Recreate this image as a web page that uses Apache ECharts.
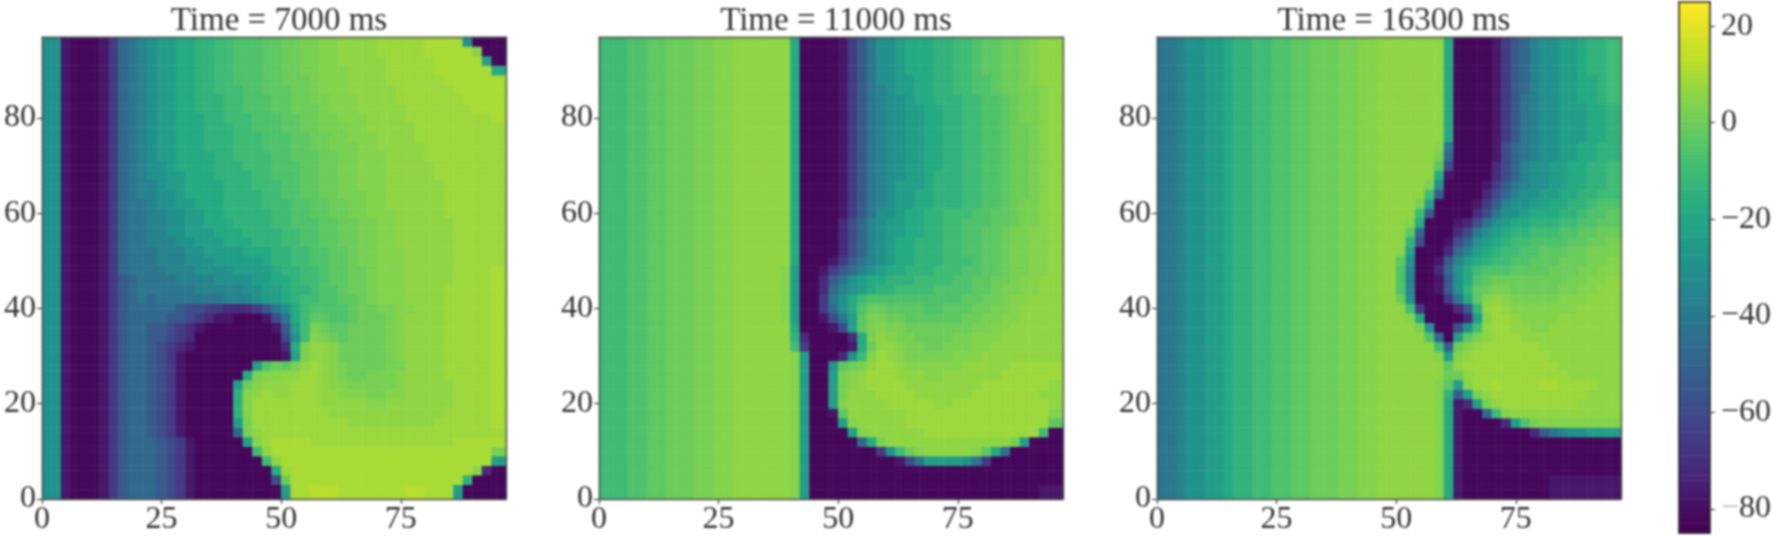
<!DOCTYPE html>
<html>
<head>
<meta charset="utf-8">
<style>html,body{margin:0;padding:0;background:#fff}#c{width:1774px;height:536px;filter:blur(1.1px)}</style>
<script src="https://cdn.jsdelivr.net/npm/echarts@6/dist/echarts.min.js"></script>
</head>
<body>
<div id="c"></div>
<script>
const panelTitles = ['Time = 7000 ms', 'Time = 11000 ms', 'Time = 16300 ms'];
const xTickValues = [0, 25, 50, 75];
const yTickValues = [0, 20, 40, 60, 80];
const colorbarTicks = [-80, -60, -40, -20, 0, 20];
const levelChars = 'ABCDEFGHIJKLMNOPQRSTUVW';
const levelValues = [-83, -78, -72, -66, -60, -54, -48, -42, -36, -30, -24, -18, -14, -10, -6, -3, 0, 2.5, 4.5, 6.5, 8.5, 10.5, 12.5];
const viridis = ['#440154', '#482475', '#414487', '#355f8d', '#2a788e', '#21918c', '#22a884', '#44bf70', '#7ad151', '#bddf26', '#fde725'];

// Rows, top row first (y = 96, 94, ... 2); 48 columns of 2 units each.
const panel7000Rows = [
'JJBAAABD GHIJKKLL MMNNOOOP PQQRRSST TTTUUUUU VVVVJAAA',
'JJBAAABD GHIJKKLL MMNNOOOP PQQRRSST TTTUUUUU VVVVVSAA',
'JJBAAABD GHIJKKLL MMNNOOOP PQQRRSST TTTTUUUU UVVVVVKA',
'JJBAAABD GHIJKKLL MMNNOOOP PQQRRSSS TTTTUUUU UVVVVVVL',
'JJBAAABD GHIJKKLL MMNNOOOP PQQQRSSS TTTTUUUU UUVVVVVV',
'JJBAAABD GHIJKKLL MMNNNOOP PPQQRSSS TTTTTUUU UUUVVVVV',
'JJBAAABD GHIJKKLL MMMNNOOO PPQQRRSS STTTTUUU UUUUVVVV',
'JJBAAABD GHIJKKLL MMMNNOOO PPQQQRSS STTTTTUU UUUUUVVV',
'JJBAAABD GHIJKKLL LMMNNNOO OPPQQRRS SSTTTTUU UUUUUUUV',
'JJBAAABD GHIJKKLL LMMMNNOO OPPQQRRR SSTTTTTU UUUUUUUU',
'JJBAAABD GHIJKKLL LMMMNNNO OOPPQQRR SSSTTTTU UUUUUUUU',
'JJBAAABD GHIJKKLL LMMMNNNO OOPPQQRR RSSTTTTT UUUUUUUU',
'JJBAAABD GHIJKKLL LLMMNNNN OOPPPQQR RSSSTTTT UUUUUUUU',
'JJBAAABD GHIJJKLL LLMMMNNN OOOPPQQR RSSSTTTT TUUUUUUU',
'JJBAAABD GHIJJKKL LLMMMMNN OOOPPQQR RSSSTTTT TUUUUUUU',
'JJBAAABD GHIIJKKL LLLMMMNN NOOPPQQR RSSSTTTT TTUUUUUU',
'JJBAAABD GHIIJJKL LLLMMMMN NOOPPQQR RRSSTTTT TTUUUUUU',
'JJBAAABD GHHIJJKK LLLMMMMN NNOOPPQQ RRSSTTTT TTUUUUUU',
'JJBAAABD GHHIIJJK KLLMMMMM NNOOPPQQ RRSSSTTT TTUUUUUU',
'JJBAAABD GHHIIJJK KLLLMMMM NNOOOPPQ QRRSSTTT TTTUUUUU',
'JJBAAABD GHHIIJJK KKLLLMMM MNNOOPPQ QRRSSTTT TTTUUUUU',
'JJBAAABD GHHIIIJJ KKKLLLMM MNNOOPPQ QRRSSTTT TTTUUUUU',
'JJBAAABD GHHHIIIJ JKKKKLLL MMNNOOPP QRRSSSTT TTTUUUUU',
'JJBAAABD GHHHIIIJ JJKKKKKL MMNNOOPP QRRSSSTT TTTUUUUU',
'JJBAAABD GHHHHIII JJJJKKKK LMMNNOPP QQRSSSTT TTTUUUUV',
'JJBAAABD FGHHHHII IIJJJJKK LLMNNOPP QQRSSSTT TTTUUUUV',
'JJBAAABD FGHHHHHH IIIIIJJK KLMMNOOP QQRSSSTT TTUUUUUV',
'JJBAAABD FGHGHHHH HHHIIIJK KLMNNOOP PQRSSSTT TTUUUUUV',
'JJBAAABD FGGGGGFE EDDCCCDF HJLNOOOO PQQRRSST TTUUUUUV',
'JJBAAABD FGGGGFFE DCBBAAAB EHLNPPOO PQQQRSTT TTUUUUUV',
'JJBAAABD FGGFFEDC BAAAAAAA BFKNRQPP QQQQRSTT TTUUUUUV',
'JJBAAABD FGGFFEDC AAAAAAAA AEJNSRQP QQQQRSTT TTUUUUUV',
'JJBAAABD FGGFEDCB AAAAAAAA ACLRTTSQ QQQQRSTT TTUUUUUV',
'JJBAAABD FGGFEDBA AAAAAAAA ABKRTTSQ QQQQRSTT TTUUUUUV',
'JJBAAABD FGGFEDBA AAAAAAKO QPRTUTSR QQQQRRTT TTUUUUUV',
'JJBAAABD FGGFEDBA AAAAALRS STTUUTSR QQRRRSTT TTUUUUUV',
'JJBAAABD FGGFEDBA AAAAKQST TTUUUTSS RRRRRSTT TTTUUUUV',
'JJBAAABD FGGFEDBA AAAAMSTU TTUUUTTS SSRRSSTT TTTUUUUV',
'JJBAAABD FGGFEDBA AAAAMSUU UUUUUTTT TTSSTTTT TTTUUUUV',
'JJBAAABD FGGFEDBA AAAAMSUU UUUUUUTT TTTTTTTT TTUUUUUV',
'JJBAAABD FGGFEDBA AAAAKRUU UUUUUUUU TTTTTTTT TUUUUUUV',
'JJBAAABD FGGFEDBA AAAAGRTU UUUUUUUU UUUUUUUU UUUUUUUU',
'JJBAAABD FGGGFEDB AAAAAKSU VVVVUUUU UUUUUUUU UUUVVVVV',
'JJBAAABD FGGGFEDB AAAAAANT VVVVVVVV VVVVVVVV VVVVVVVR',
'JJBAAABD FGGGFEDB AAAAAAAN TVVVVVVV VVVVVVVV VVVVVVVK',
'JJBAAABD FGGGFEDB AAAAAAAA LUVVVVVV VVVVVVVV VVVVVSCA',
'JJBAAABD FGGGFEDB AAAAAAAA EQVVVVVV VVVVVVVV VVVVMAAA',
'JJBAAABD FGGGFEDB AAAAAAAA AKVVWWWV VVVVVVWW VVVKAAAA'
];

const panel11000Rows = [
'NNNOOPPQ QQRRSSTT TTTTLAAA ABDFHJJK LLLMMNNO PPQQRSTT',
'NNNOOPPQ QQRRSSTT TTTTLAAA ABDFHJJK LLLMMNNO PPQQRSTT',
'NNNOOPPQ QQRRSSTT TTTTLAAA ABDFHJJK LLLMMNNO PPQQRSTT',
'NNNOOPPQ QQRRSSTT TTTTLAAA ABDFHJJK LLLMMNNO PPQQRSTT',
'NNNOOPPQ QQRRSSTT TTTTLAAA ABDFHJJK KLLMMNNO OPQQRSTT',
'NNNOOPPQ QQRRSSTT TTTTLAAA ABDFHIJK KLLMMNNO OPQQRRST',
'NNNOOPPQ QQRRSSTT TTTTLAAA ABDFHIJJ KLLMMMNN OOPQRRST',
'NNNOOPPQ QQRRSSTT TTTTLAAA ABDFHIJJ KKLLMMNN OOPQRRST',
'NNNOOPPQ QQRRSSTT TTTTLAAA ABDFHIJJ KKLLMMNN OOPQRRST',
'NNNOOPPQ QQRRSSTT TTTTLAAA ABDFHIJJ KKLLMMNN OOPQQRST',
'NNNOOPPQ QQRRSSTT TTTTLAAA ABDFHIJJ KKLLMMNN OOPQQRST',
'NNNOOPPQ QQRRSSTT TTTTLAAA ABDFHIJJ KKLLMMNN OOPQQRST',
'NNNOOPPQ QQRRSSTT TTTTLAAA ABDFHIJJ KKLLMMNN OOPQQRST',
'NNNOOPPQ QQRRSSTT TTTTLAAA ABDFHIJJ KKLLMMNN OOPQQRST',
'NNNOOPPQ QQRRSSTT TTTTLAAA ABDFHIJJ KKLMMMNN OOPQQRST',
'NNNOOPPQ QQRRSSTT TTTTLAAA ABDFHIJK KKLMMMNN OOPQQRST',
'NNNOOPPQ QQRRSSTT TTTTLAAA ABDFHIJK KLLMMMNN OOPQQRST',
'NNNOOPPQ QQRRSSTT TTTTLAAA ABDFHIJK KLLMMMNN OOPQRRST',
'NNNOOPPQ QQRRSSTT TTTTLAAA ABDFHJJK LLMMNNNO OPPQRRST',
'NNNOOPPQ QQRRSSTT TTTTLAAA ACEGIJKK LLMMNNOO OPPQRRST',
'NNNOOPPQ QQRRSSTT TTTTLAAA ACEGIJKK LLMMNNOO PPQRRSST',
'NNNOOPPQ QQRRSSTT TTTTLAAA ACEGIJKL LMMMNNOO PPQRRSST',
'NNNOOPPQ QQRRSSTT TTTTLAAA ACEGIJKL LMMMNNOO PPQRRSST',
'NNNOOPPQ QQRRSSTT TTTTLAAA BDFHIJKL LMMMNNNO PPQRRSST',
'NNNOOPPQ QQRRSSTT TTTSKAAB DFGIJKLL MMMNNNOO PPQRRSST',
'NNNOOPPQ QQRRSSTT TTTSKAAC FHJKLLMM MNNNNOOP PQQRSSTT',
'NNNOOPPQ QQRRSSTT TTTSKAAC GIJKLMMN NNNOOOOP PQRRSSTT',
'NNNOOPPQ QQRRSSTT TTTSKAAD HJLNOOOO OOOOOOPP QQRSSTTT',
'NNNOOPPQ QQRRSSTT TTTSKAAD GJLOQQPP PPOOPPPQ QRRSTTTT',
'NNNOOPPQ QQRRSSTT TTTSKAAB EHKPRRQQ PPPPPPQQ RRSSTTTT',
'NNNOOPPQ QQRRSSTT TTTTLAAA BEKPRSRR QQQQQQQR RSSTTTTT',
'NNNOOPPQ QQRRSSTT TTTTMCAA AACLRTSR RQQQQRRS SSTTTTTT',
'NNNOOPPQ QQRRSSTT TTTTNDAA AABLQTTS RRQQRRRS STTTTTTT',
'NNNOOPPQ QQRRSSTT TTTTSKAA ACJNSUTS RRRRRSSS TTTTTTTT',
'NNNOOPPQ QQRRSSTT TTTTSKAA JPQRTUUT SSSSSSTT TTTUUUUU',
'NNNOOPPQ QQRRSSTT TTTTSKAA KRSTUUUT TTSSTTTT TTUUUUUU',
'NNNOOPPQ QQRRSSTT TTTTSKAA KRSTUUUU TTTTTTTT UUUUUUUT',
'NNNOOPPQ QQRRSSTT TTTTSKAA KRTTTUUU UTTTTTTU UUUUUUTT',
'NNNOOPPQ QQRRSSTT TTTTSKAA KSTTTTUU UUUTTUUU UUUUUUUT',
'NNNOOPPQ QQRRSSTT TTTTSKAA BPTTTTTT UUUUUUUU UUUUUUUS',
'NNNOOPPQ QQRRSSTT TTTTSKAA AKSTTTTT UUUUUUUU UUUUUUUP',
'NNNOOPPQ QQRRSSTT TTTTSKAA AAKSTTTT TTUUUUUU UUUUUUNA',
'NNNOOPPQ QQRRSSTT TTTTSKAA AAAGLRTT TTTTTTTT TTTRKAAA',
'NNNOOPPQ QQRRSSTT TTTTSKAA AAAAADJN QSTTTTTS PLGAAAAA',
'NNNOOPPQ QQRRSSTT TTTTSKAA AAAAAAAB EHKKKKJH DAAAAAAA',
'NNNOOPPQ QQRRSSTT TTTTSKAA AAAAAAAA AAAAAAAA AAAAAAAA',
'NNNOOPPQ QQRRSSTT TTTTSKAA AAAAAAAA AAAAAAAA AAAAAAAA',
'NNNOOPPQ QQRRSSTT TTTTSKAA AAAAAAAA AAAAAAAA AAAAAABB'
];

const panel16300Rows = [
'HHIJJKKL MMNNOOPP QQQRRSST TTTTTTLA AAABDFGI JJKKLMMN',
'HHIJJKKL MMNNOOPP QQQRRSST TTTTTTLA AAABDFGI JJKKLMMN',
'HHIJJKKL MMNNOOPP QQQRRSST TTTTTTLA AAABDFGI JJKKLMMN',
'HHIJJKKL MMNNOOPP QQQRRSST TTTTTTLA AAABDFGI JJKKLMMN',
'HHIJJKKL MMNNOOPP QQQRRSST TTTTTTLA AAABDFGI JJKKLLMN',
'HHIJJKKL MMNNOOPP QQQRRSST TTTTTTLA AAABDFGI JJKKLLMN',
'HHIJJKKL MMNNOOPP QQQRRSST TTTTTTLA AAABDFHI JJKKLLMN',
'HHIJJKKL MMNNOOPP QQQRRSST TTTTTTLA AAABDFHI JJKKKLLM',
'HHIJJKKL MMNNOOPP QQQRRSST TTTTTTLA AAABDFHI JJKKKLLM',
'HHIJJKKL MMNNOOPP QQQRRSST TTTTTTLA AAABDFHI JJKKKLLM',
'HHIJJKKL MMNNOOPP QQQRRSST TTTTTTLA AAABDFHI JJKKKLLM',
'HHIJJKKL MMNNOOPP QQQRRSST TTTTTSHA AAABEGHI JJKKLLMM',
'HHIJJKKL MMNNOOPP QQQRRSST TTTTTRGA AAABEGHI JJKKLLMM',
'HHIJJKKL MMNNOOPP QQQRRSST TTTTTPEA AAACEGIJ JKKLLMMN',
'HHIJJKKL MMNNOOPP QQQRRSST TTTTTLBA AAACEGIJ JKKLLMMN',
'HHIJJKKL MMNNOOPP QQQRRSST TTTTRJAA AABDFHIJ JKKLLMMN',
'HHIJJKKL MMNNOOPP QQQRRSST TTTTNFAA AACEGIJJ KKLLMMNN',
'HHIJJKKL MMNNOOPP QQQRRSST TTTRKAAA ABDFIJJK KLLMMNOO',
'HHIJJKKL MMNNOOPP QQQRRSST TTTNFAAA ACEHJJKL LLMMNOOP',
'HHIJJKKL MMNNOOPP QQQRRSST TTSLAAAB CEHJKLLM MMNNOOPP',
'HHIJJKKL MMNNOOPP QQQRRSST TTPGAAAC EHJKLMMN NNOOPPQQ',
'HHIJJKKL MMNNOOPP QQQRRSST TTMEAABE GJKLMNNO OOOPPQQR',
'HHIJJKKL MMNNOOPP QQQRRSST TSKAAACG IKLMNNOO PPPQQRRR',
'HHIJJKKL MMNNOOPP QQQRRSST TPJAABFI KLMNNOOP PPQQQRRS',
'HHIJJKKL MMNNOOPP QQQRRSST TOIAACGJ LNOOOPPP PQQQRRSS',
'HHIJJKKL MMNNOOPP QQQRRSST TOIAABFJ LOPQQQQQ QQQRRSST',
'HHIJJKKL MMNNOOPP QQQRRSST TOIAABFJ MPQRRQQQ QQRRSSTT',
'HHIJJKKL MMNNOOPP QQQRRSST TQJAAADH LPSTSRRR RRSSSTTT',
'HHIJJKKL MMNNOOPP QQQRRSST TTNDAAAC FMTUTSSS SSSSTTTT',
'HHIJJKKL MMNNOOPP QQQRRSST TTSLAAAA CKSUUTSS SSTTTTTT',
'HHIJJKKL MMNNOOPP QQQRRSST TTTRJAAE JNTUUTTS STTTTTTT',
'HHIJJKKL MMNNOOPP QQQRRSST TTTTOGAK PRTUUUTT TTTTTTTT',
'HHIJJKKL MMNNOOPP QQQRRSST TTTTTNFQ STUUUUUU TTTTTTTT',
'HHIJJKKL MMNNOOPP QQQRRSST TTTTTSKS TUUUUUUU UTTTTTTT',
'HHIJJKKL MMNNOOPP QQQRRSST TTTTTTPT UUUUUUUU UUTTTTTT',
'HHIJJKKL MMNNOOPP QQQRRSST TTTTTTQQ TUUUUUUU UUUTTTTT',
'HHIJJKKL MMNNOOPP QQQRRSST TTTTTSPK SUUVUUUU VVUUUUTT',
'HHIJJKKL MMNNOOPP QQQRRSST TTTTTSMF KRTUUUUU UUUUUTTT',
'HHIJJKKL MMNNOOPP QQQRRSST TTTTTSLB CKRTUUUU UUUUTTTT',
'HHIJJKKL MMNNOOPP QQQRRSST TTTTTSLB AAGNSTTT TTTTTTTT',
'HHIJJKKL MMNNOOPP QQQRRSST TTTTTSLB AAAACKOR SSSSSSSS',
'HHIJJKKL MMNNOOPP QQQRRSST TTTTTSLB AAAAAAAC FHIJJKKK',
'HHIJJKKL MMNNOOPP QQQRRSST TTTTTSLB AAAAAAAA AAAAAAAA',
'HHIJJKKL MMNNOOPP QQQRRSST TTTTTSLB AAAAAAAA AAAAAAAA',
'HHIJJKKL MMNNOOPP QQQRRSST TTTTTSLB AAAAAAAA AAAAAAAA',
'HHIJJKKL MMNNOOPP QQQRRSST TTTTTSLB AAAAAAAA AAAAAAAA',
'HHIJJKKL MMNNOOPP QQQRRSST TTTTTSLB AAAAAAAA ABBBBBBB',
'HHIJJKKL MMNNOOPP QQQRRSST TTTTTSLB AAAAAAAA ABBBBBBB'
];

const panelRows = [panel7000Rows, panel11000Rows, panel16300Rows];
const unitCount = 97;
const unitLabels = Array.from({length: unitCount}, (_, i) => String(i));

function cellsFrom(rows) {
  const table = rows.map(r => r.replace(/ /g, ''));
  const cells = [];
  for (let yu = 0; yu < unitCount; yu++) {
    const rowIndex = Math.min(47, Math.max(0, (96 - 2 * Math.ceil(Math.max(yu, 1) / 2)) / 2));
    const row = table[rowIndex];
    for (let xu = 0; xu < unitCount; xu++) {
      const ch = row[Math.min(row.length - 1, xu >> 1)];
      cells.push([xu, yu, levelValues[levelChars.indexOf(ch)]]);
    }
  }
  return cells;
}

const panelBoxes = [{left: 42, width: 464}, {left: 599, width: 464}, {left: 1157, width: 464}];
const panelTop = 37, panelHeight = 463;
const frameLine = {show: true, onZero: false, lineStyle: {color: '#4a4a4a', width: 1.4}};
const tickStyle = {lineStyle: {color: '#444', width: 1.2}, length: 5};
const textFont = {fontFamily: 'Liberation Serif', color: '#333'};

const grid = [], xAxis = [], yAxis = [], series = [], title = [];
panelBoxes.forEach((box, i) => {
  grid.push({left: box.left, top: panelTop, width: box.width, height: panelHeight, containLabel: false});
  title.push({text: panelTitles[i], left: box.left + box.width / 2, top: 0, textAlign: 'center',
    textStyle: {...textFont, fontSize: 33, fontWeight: 'normal'}});
  xAxis.push({type: 'value', gridIndex: i, position: 'bottom', min: 0, max: 97, z: 5, splitLine: {show: false},
    axisLine: frameLine,
    axisTick: {...tickStyle, show: true, customValues: xTickValues},
    axisLabel: {...textFont, fontSize: 32, margin: 5, customValues: xTickValues}});
  xAxis.push({type: 'category', gridIndex: i, position: 'top', data: unitLabels, z: 5,
    axisLine: frameLine, axisTick: {show: false}, axisLabel: {show: false}, splitLine: {show: false}});
  yAxis.push({type: 'value', gridIndex: i, position: 'left', min: 0, max: 97, z: 5, splitLine: {show: false},
    axisLine: frameLine,
    axisTick: {...tickStyle, show: true, customValues: yTickValues},
    axisLabel: {...textFont, fontSize: 32, margin: 6, customValues: yTickValues}});
  yAxis.push({type: 'category', gridIndex: i, position: 'right', data: unitLabels, z: 5,
    axisLine: frameLine, axisTick: {show: false}, axisLabel: {show: false}, splitLine: {show: false}});
  series.push({type: 'heatmap', xAxisIndex: 2 * i + 1, yAxisIndex: 2 * i + 1,
    data: cellsFrom(panelRows[i]), progressive: 0, animation: false, silent: true,
    itemStyle: {borderWidth: 0}, emphasis: {disabled: true}});
});

// colour bar
const colorbarMin = -85, colorbarMax = 25;
const colorbarLevels = Array.from({length: colorbarMax - colorbarMin + 1}, (_, i) => colorbarMin + i);
const cbLine = {show: true, onZero: false, lineStyle: {color: '#222', width: 1.5}};
grid.push({left: 1679, top: 2, width: 31, height: 531});
xAxis.push({type: 'category', gridIndex: 3, position: 'bottom', data: ['c'], z: 5,
  axisLine: cbLine, axisTick: {show: false}, axisLabel: {show: false}, splitLine: {show: false}});
xAxis.push({type: 'value', gridIndex: 3, position: 'top', min: 0, max: 1, z: 5,
  axisLine: cbLine, axisTick: {show: false}, axisLabel: {show: false}, splitLine: {show: false}});
yAxis.push({type: 'category', gridIndex: 3, position: 'left', data: colorbarLevels.map(String), z: 5,
  axisLine: cbLine, axisTick: {show: false}, axisLabel: {show: false}, splitLine: {show: false}});
yAxis.push({type: 'value', gridIndex: 3, position: 'right', min: colorbarMin, max: colorbarMax, z: 5,
  axisLine: cbLine, splitLine: {show: false},
  axisTick: {...tickStyle, show: true, customValues: colorbarTicks},
  axisLabel: {...textFont, fontSize: 32, margin: 11, customValues: colorbarTicks,
    formatter: v => v === -80 ? '{g|\u2212}80' : (v < 0 ? '\u2212' + Math.abs(v) : String(v)),
    rich: {g: {color: '#bbb', fontFamily: 'Liberation Serif', fontSize: 32}}}});
series.push({type: 'heatmap', xAxisIndex: 6, yAxisIndex: 6,
  data: colorbarLevels.map((v, i) => [0, i, v]), progressive: 0, animation: false, silent: true,
  emphasis: {disabled: true}});

const chart = echarts.init(document.getElementById('c'), null, {renderer: 'canvas'});
chart.setOption({
  animation: false, backgroundColor: '#fff', title, grid, xAxis, yAxis, series,
  visualMap: {show: false, min: colorbarMin, max: colorbarMax, seriesIndex: [0, 1, 2, 3],
    inRange: {color: viridis}, calculable: false}
});
</script>
</body>
</html>
